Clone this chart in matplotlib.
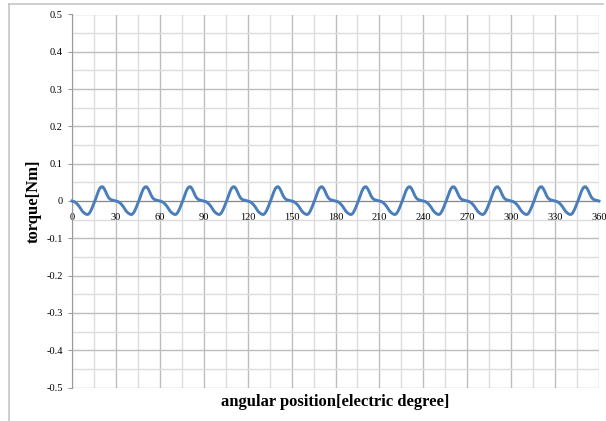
import matplotlib
matplotlib.use('Agg')
import matplotlib.pyplot as plt
from matplotlib.lines import Line2D
import numpy as np

# one cogging period (30 electric degrees), read at 1 degree steps
period = [0.0, -0.001, -0.003, -0.006, -0.010, -0.015, -0.021, -0.027, -0.031, -0.034,
          -0.036, -0.036, -0.032, -0.025, -0.016, -0.006, 0.004, 0.015, 0.026, 0.034,
          0.038, 0.038, 0.033, 0.025, 0.016, 0.009, 0.005, 0.003, 0.002, 0.001]
n_periods = 12
angle = np.arange(0, 30 * n_periods + 1)
torque = period * n_periods + [0.0]

xticks = list(range(0, 361, 30))
yticks = [0.5, 0.4, 0.3, 0.2, 0.1, 0, -0.1, -0.2, -0.3, -0.4, -0.5]
ytick_labels = ['0.5', '0.4', '0.3', '0.2', '0.1', '0', '-0.1', '-0.2', '-0.3', '-0.4', '-0.5']

plt.rcParams['font.family'] = ['Liberation Serif', 'DejaVu Serif']

fig = plt.figure(figsize=(6.06, 4.21), dpi=100)
ax = fig.add_axes([72 / 606, 1 - 387.5 / 421, (599 - 72) / 606, (387.5 - 14.5) / 421])

# outer chart frame: only top and left edges show
fy = 1 - 4 / 421
fx = 9 / 606
fig.lines.append(Line2D([fx, 603 / 606], [fy, fy], transform=fig.transFigure,
                        color='#c6c6c6', linewidth=1.2))
fig.lines.append(Line2D([fx, fx], [fy, 0], transform=fig.transFigure,
                        color='#c6c6c6', linewidth=1.2))

ax.set_xlim(0, 360)
ax.set_ylim(-0.5, 0.5)
ax.set_xticks(xticks)
ax.set_xticks(range(15, 360, 30), minor=True)
ax.set_yticks(yticks)
ax.set_yticklabels(ytick_labels)
ax.set_yticks(np.arange(-0.45, 0.5, 0.1), minor=True)

ax.grid(True, which='major', color='#bdbdbd', linewidth=1.0)
ax.grid(True, which='minor', color='#dcdcdc', linewidth=1.0)
ax.set_axisbelow(True)

for s in ['top', 'right']:
    ax.spines[s].set_visible(False)
ax.spines['left'].set_color('#9a9a9a')
ax.spines['bottom'].set_position(('data', 0))
ax.spines['bottom'].set_color('#8a8a8a')
ax.spines['bottom'].set_zorder(1)

ax.tick_params(axis='y', which='major', length=3, color='#9a9a9a', labelsize=7.5, pad=3.5)
ax.tick_params(axis='y', which='minor', length=0)
ax.tick_params(axis='x', which='both', length=0, labelsize=7.5, pad=9)

ax.plot(angle, torque, color='#4a7ebb', linewidth=2.1, zorder=3, clip_on=False)

ax.set_ylabel('torque[Nm]', fontsize=12, fontweight='bold')
ax.yaxis.set_label_coords(-0.057, 0.5)
ax.set_xlabel('angular position[electric degree]', fontsize=12, fontweight='bold')
ax.xaxis.set_label_coords(0.5, -0.017)

fig.savefig('out.png', dpi=100)
